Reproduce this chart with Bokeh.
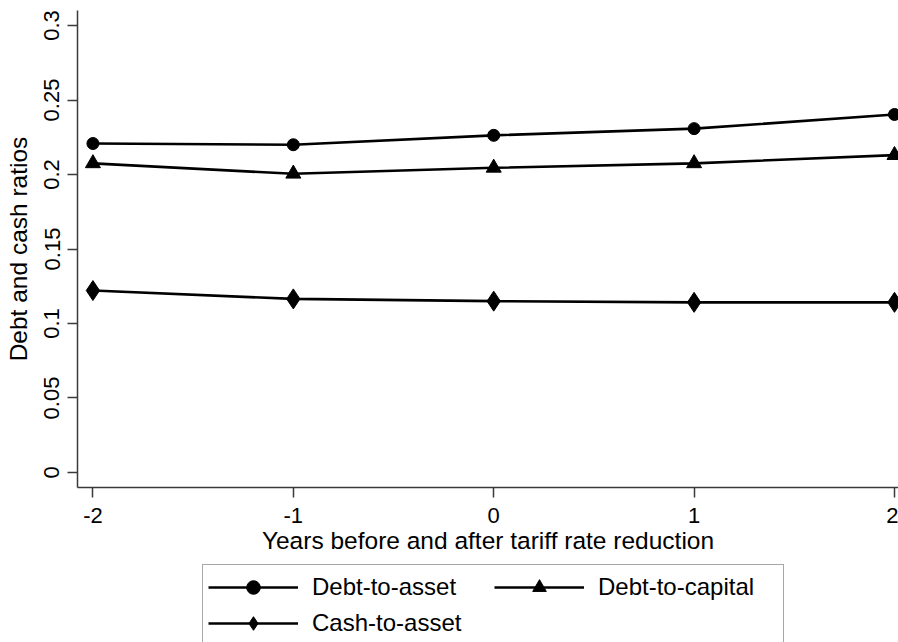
from bokeh.plotting import figure
from bokeh.models import FixedTicker, Legend, LegendItem, Range1d
from bokeh.layouts import column
from bokeh.embed import file_html
from bokeh.resources import INLINE

# ---- data ----
years = [-2, -1, 0, 1, 2]
debt_to_asset = [0.2208, 0.2200, 0.2263, 0.2308, 0.2403]
debt_to_capital = [0.2075, 0.2005, 0.2045, 0.2075, 0.2130]
cash_to_asset = [0.1221, 0.1165, 0.1150, 0.1142, 0.1142]
series_names = ["Debt-to-asset", "Debt-to-capital", "Cash-to-asset"]

x_ticks = [-2, -1, 0, 1, 2]
x_tick_labels = ["-2", "-1", "0", "1", "2"]
y_ticks = [0, 0.05, 0.1, 0.15, 0.2, 0.25, 0.3]
y_tick_labels = ["0", "0.05", "0.1", "0.15", "0.2", "0.25", "0.3"]

FONT = "Liberation Sans"
AX = "#3a3a3a"
series = [debt_to_asset, debt_to_capital, cash_to_asset]
markers = ["circle", "triangle", "diamond"]
sizes = [12, 15, 20]
LW = 2.6

# ---- main plot ----
p = figure(width=898, height=564, output_backend="svg", toolbar_location=None,
           x_range=Range1d(-2.077, 2.02), y_range=Range1d(-0.0101, 0.3101),
           min_border_left=77, min_border_right=0, min_border_top=10,
           min_border_bottom=77)
p.outline_line_color = None
p.grid.visible = False
p.background_fill_color = "white"
p.border_fill_color = "white"

def style_axis(ax):
    ax.axis_line_color = AX
    ax.axis_line_width = 1.5
    ax.major_tick_line_color = AX
    ax.major_tick_line_width = 1.5
    ax.major_tick_out = 10
    ax.major_tick_in = 0
    ax.minor_tick_line_color = None
    ax.major_label_text_font = FONT
    ax.major_label_text_font_size = "22px"
    ax.major_label_text_color = "black"
    ax.axis_label_text_font = FONT
    ax.axis_label_text_font_size = "24.5px"
    ax.axis_label_text_font_style = "normal"
    ax.axis_label_text_color = "black"

xa = p.xaxis[0]
ya = p.yaxis[0]
style_axis(xa)
style_axis(ya)
xa.ticker = FixedTicker(ticks=x_ticks)
xa.major_label_overrides = {t: l for t, l in zip(x_ticks, x_tick_labels)}
ya.ticker = FixedTicker(ticks=y_ticks)
ya.major_label_overrides = {t: l for t, l in zip(y_ticks, y_tick_labels)}
ya.major_label_orientation = "vertical"
xa.axis_label = "Years before and after tariff rate reduction"
ya.axis_label = "Debt and cash ratios"
xa.major_label_standoff = 10
xa.axis_label_standoff = 1
ya.major_label_standoff = 8
ya.axis_label_standoff = 10

for vals, mk, sz in zip(series, markers, sizes):
    p.line(years, vals, line_color="black", line_width=LW)
    p.scatter(years, vals, marker=mk, size=sz, fill_color="black",
              line_color="black")

# ---- legend strip (its renderers lie outside its own visible range) ----
lf = figure(width=898, height=78, output_backend="svg", toolbar_location=None,
            x_range=Range1d(100, 101), y_range=Range1d(100, 101),
            x_axis_location=None, y_axis_location=None,
            min_border_left=0, min_border_right=0, min_border_top=0,
            min_border_bottom=0)
lf.outline_line_color = None
lf.grid.visible = False
lf.border_fill_color = "white"
items = []
for name, vals, mk in zip(series_names, series, markers):
    lr = lf.line(years, vals, line_color="black", line_width=LW)
    sr = lf.scatter(years, vals, marker=mk, fill_color="black", line_color="black")
    items.append(LegendItem(label=name, renderers=[lr, sr]))

legend = Legend(items=items, ncols=2, orientation="horizontal",
                location=(125, -4), margin=0,
                padding=5, spacing=2,
                glyph_width=90, glyph_height=34,
                label_width=180, label_height=34, label_standoff=14,
                label_text_font=FONT, label_text_font_size="24px",
                label_text_color="black",
                border_line_color="#505050", border_line_width=1.5,
                background_fill_color="white", background_fill_alpha=1.0)
lf.add_layout(legend, "center")

layout = column(p, lf, spacing=0)
open("out.html", "w").write(file_html(layout, INLINE))
